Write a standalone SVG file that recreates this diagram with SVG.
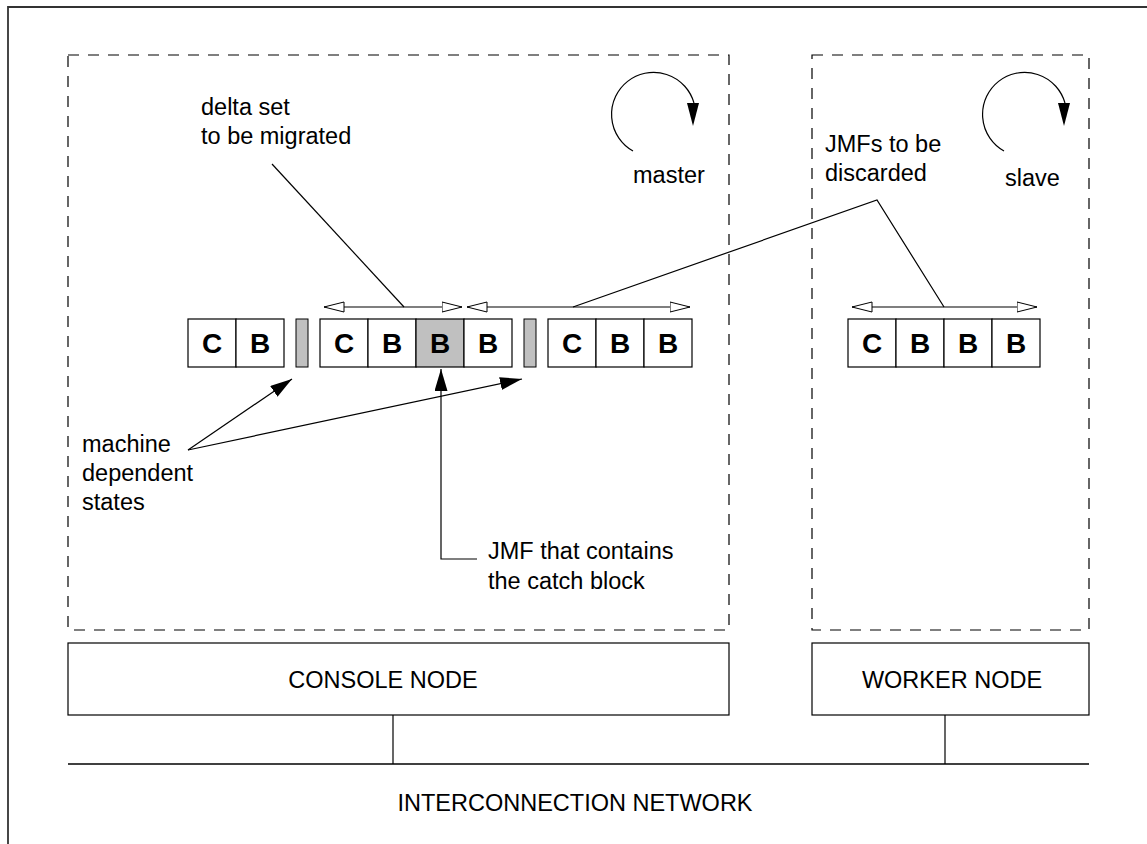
<svg xmlns="http://www.w3.org/2000/svg" width="1147" height="844" viewBox="0 0 1147 844">
  <style>
    .txt { font-family: "Liberation Sans", Arial, sans-serif; font-size: 23.5px; fill: #000; }
    .mid { text-anchor: middle; }
    .cell { fill: #fff; stroke: #000; stroke-width: 1.2; }
    .cell.hl { fill: #c0c0c0; }
    .lbl { font-family: "Liberation Sans", Arial, sans-serif; font-size: 28px; font-weight: bold; text-anchor: middle; }
    .bar { fill: #c0c0c0; stroke: #000; stroke-width: 1; }
    .box { fill: #fff; stroke: #000; stroke-width: 1.2; }
    .space { fill: none; stroke: #000; stroke-width: 1.2; stroke-dasharray: 11 9; }
    .wire { fill: none; stroke: #000; stroke-width: 1.2; }
    .span { fill: none; stroke: #000; stroke-width: 1.2; marker-start: url(#hollow); marker-end: url(#hollow); }
    .ptr { fill: none; stroke: #000; stroke-width: 1.2; marker-end: url(#solid); }
  </style>
  <defs>
    <marker id="solid" markerUnits="userSpaceOnUse" markerWidth="23" markerHeight="13" refX="22" refY="6.5" orient="auto">
      <path d="M0,0 L22,6.5 L0,13 z" fill="#000"/>
    </marker>
    <marker id="hollow" markerUnits="userSpaceOnUse" markerWidth="22" markerHeight="12" refX="20.5" refY="6" orient="auto-start-reverse">
      <path d="M0.5,1 L20.5,6 L0.5,11 z" fill="#fff" stroke="#000" stroke-width="1"/>
    </marker>
  </defs>

  <rect width="1147" height="844" fill="#fff"/>

  <!-- page frame -->
  <path d="M8,844 V7 H1147" fill="none" stroke="#333" stroke-width="1.8"/>

  <!-- process spaces -->
  <g id="master-space">
    <rect class="space" x="68" y="55" width="661" height="575"/>
    <path class="wire" d="M633,151 A42,42 0 1 1 694,103"/>
    <polygon points="687,103 699,103 693,126" fill="#000"/>
    <text class="txt" x="633" y="183">master</text>
  </g>
  <g id="slave-space">
    <rect class="space" x="812" y="55" width="277" height="575"/>
    <path class="wire" d="M1004,151 A42,42 0 1 1 1065,103"/>
    <polygon points="1058,103 1070,103 1064,126" fill="#000"/>
    <text class="txt" x="1005" y="186">slave</text>
  </g>

  <!-- hardware -->
  <g id="console-node">
    <rect class="box" x="68" y="643" width="661" height="72"/>
    <text class="txt mid" x="383" y="688">CONSOLE NODE</text>
  </g>
  <g id="worker-node">
    <rect class="box" x="812" y="643" width="277" height="72"/>
    <text class="txt mid" x="952" y="688">WORKER NODE</text>
  </g>
  <g id="network">
    <line x1="68" y1="764" x2="1089" y2="764" stroke="#000" stroke-width="1.6"/>
    <text class="txt mid" x="575" y="811">INTERCONNECTION NETWORK</text>
  </g>

  <!-- master stack of frames -->
  <g id="master-stack">
    <rect class="cell" x="188" y="319" width="48" height="48"/>
    <rect class="cell" x="236" y="319" width="48" height="48"/>
    <rect class="bar" x="296" y="319" width="12" height="48"/>
    <rect class="cell" x="320" y="319" width="48" height="48"/>
    <rect class="cell" x="368" y="319" width="48" height="48"/>
    <rect class="cell hl" x="416" y="319" width="48" height="48"/>
    <rect class="cell" x="464" y="319" width="48" height="48"/>
    <rect class="bar" x="524" y="319" width="12" height="48"/>
    <rect class="cell" x="548" y="319" width="48" height="48"/>
    <rect class="cell" x="596" y="319" width="48" height="48"/>
    <rect class="cell" x="644" y="319" width="48" height="48"/>
    <text class="lbl" x="212" y="353">C</text>
    <text class="lbl" x="260" y="353">B</text>
    <text class="lbl" x="344" y="353">C</text>
    <text class="lbl" x="392" y="353">B</text>
    <text class="lbl" x="440" y="353">B</text>
    <text class="lbl" x="488" y="353">B</text>
    <text class="lbl" x="572" y="353">C</text>
    <text class="lbl" x="620" y="353">B</text>
    <text class="lbl" x="668" y="353">B</text>
  </g>

  <!-- slave stack of frames -->
  <g id="slave-stack">
    <rect class="cell" x="848" y="319" width="48" height="48"/>
    <rect class="cell" x="896" y="319" width="48" height="48"/>
    <rect class="cell" x="944" y="319" width="48" height="48"/>
    <rect class="cell" x="992" y="319" width="48" height="48"/>
    <text class="lbl" x="872" y="353">C</text>
    <text class="lbl" x="920" y="353">B</text>
    <text class="lbl" x="968" y="353">B</text>
    <text class="lbl" x="1016" y="353">B</text>
  </g>

  <!-- annotations -->
  <g id="label-delta">
    <text class="txt" x="201" y="115">delta set</text>
    <text class="txt" x="201" y="144">to be migrated</text>
  </g>
  <g id="label-discard">
    <text class="txt" x="825" y="152">JMFs to be</text>
    <text class="txt" x="825" y="181">discarded</text>
  </g>
  <g id="label-machine">
    <text class="txt" x="82" y="452">machine</text>
    <text class="txt" x="82" y="481">dependent</text>
    <text class="txt" x="82" y="510">states</text>
  </g>
  <g id="label-catch">
    <text class="txt" x="488" y="559">JMF that contains</text>
    <text class="txt" x="488" y="589">the catch block</text>
  </g>

  <!-- connectors -->
  <g id="connectors">
    <line class="span" x1="324" y1="307" x2="462" y2="307"/>
    <line class="span" x1="467" y1="307" x2="690" y2="307"/>
    <line class="span" x1="852" y1="307" x2="1037" y2="307"/>
    <line class="wire" x1="272" y1="164" x2="404" y2="307"/>
    <polyline class="wire" points="573,307 877,200 944,307"/>
    <line class="ptr" x1="188" y1="450" x2="292" y2="379"/>
    <line class="ptr" x1="188" y1="450" x2="522" y2="379"/>
    <path class="ptr" d="M477,559 H441 V369"/>
    <line class="wire" x1="393" y1="715" x2="393" y2="764"/>
    <line class="wire" x1="945" y1="715" x2="945" y2="764"/>
  </g>
</svg>
